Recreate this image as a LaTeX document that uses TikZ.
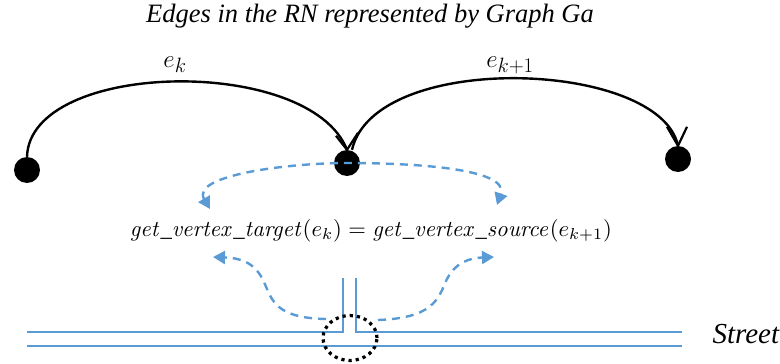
\documentclass[tikz,border=0pt]{standalone}
\usepackage[no-math]{fontspec}
\setmainfont{Liberation Serif}
\usetikzlibrary{arrows.meta,shapes.geometric}
\definecolor{lblue}{HTML}{5B9BD5}
\tikzset{
  vdot/.style={circle,fill=black,minimum size=26pt,inner sep=0pt},
  edgearc/.style={line width=2.4pt},
  vhead/.style={line width=2.2pt,line join=miter},
  flow/.style={lblue,line width=2.4pt,dash pattern=on 8pt off 6pt},
  street/.style={lblue,line width=1.2pt},
}
\begin{document}
\begin{tikzpicture}[x=1pt,y=-1pt]
\useasboundingbox (0,0) rectangle (780,364);
% title
\node[anchor=base,font=\fontsize{26.5}{30}\selectfont\itshape] (title) at (370,23) {Edges in the RN represented by Graph Ga};
% vertices
\node[vdot] (v1) at (27,170) {};
\node[vdot] (v2) at (347,163) {};
\node[vdot] (v3) at (678,159) {};
% edges
\draw[edgearc] (v1.north) .. controls (30,60) and (310,55) .. (v2.north);
\draw[vhead] ([shift={(-11,-14)}]v2.north) -- (v2.north) -- ([shift={(11,-17)}]v2.north);
\draw[edgearc] ([xshift=5pt]v2.north) .. controls (375,50) and (660,60) .. (v3.north);
\draw[vhead] ([shift={(-11,-19)}]v3.north) -- (v3.north) -- ([shift={(9,-19)}]v3.north);
\node[anchor=base,font=\fontsize{31}{34}\selectfont] (lk) at (175,67) {$e_k$};
\node[anchor=base,font=\fontsize{31}{34}\selectfont] (lk1) at (510,67) {$e_{k+1}$};
% formula
\node[anchor=base] (eq) at (371,236)
  {\resizebox{482pt}{!}{$\mathit{get\_vertex\_target}(e_k)=\mathit{get\_vertex\_source}(e_{k+1})$}};
% upper dashed
\coordinate (ul) at (210,209);
\coordinate (ur) at (497,205);
\draw[flow,{Triangle[length=12pt,width=13pt]}-{Triangle[length=12pt,width=13pt]}] (ul) .. controls (190,175) and (290,163) .. (v2.center) .. controls (410,163) and (510,168) .. (ur);
% street
\node[anchor=base west,font=\fontsize{29}{32}\selectfont\itshape] (street) at (709,343) {Street};
\coordinate (sl1) at (27,332);
\coordinate (sr1) at (682,332);
\coordinate (sl2) at (27,346);
\coordinate (sr2) at (682,346);
\coordinate (da) at (343,278);
\coordinate (db) at (356,278);
\draw[street] (sl1) -- (343,332) -- (da);
\draw[street] (db) -- (356,332) -- (sr1);
\draw[street] (sl2) -- (sr2);
% junction circle
\node[ellipse,draw=black,line width=3.2pt,dash pattern=on 3.2pt off 4pt,minimum width=54pt,minimum height=45pt,inner sep=0pt] (jn) at (350,338) {};
% lower dashed
\coordinate (ll) at (213,257);
\coordinate (lr) at (494,257);
\draw[flow,-{Triangle[length=12pt,width=13pt]}] (326,319) .. controls (275,318) and (272,300) .. (264,282) .. controls (255,262) and (240,258) .. (ll);
\draw[flow,-{Triangle[length=12pt,width=13pt]}] (378,320) .. controls (432,318) and (438,300) .. (446,281) .. controls (455,262) and (470,258) .. (lr);
\end{tikzpicture}
\end{document}
